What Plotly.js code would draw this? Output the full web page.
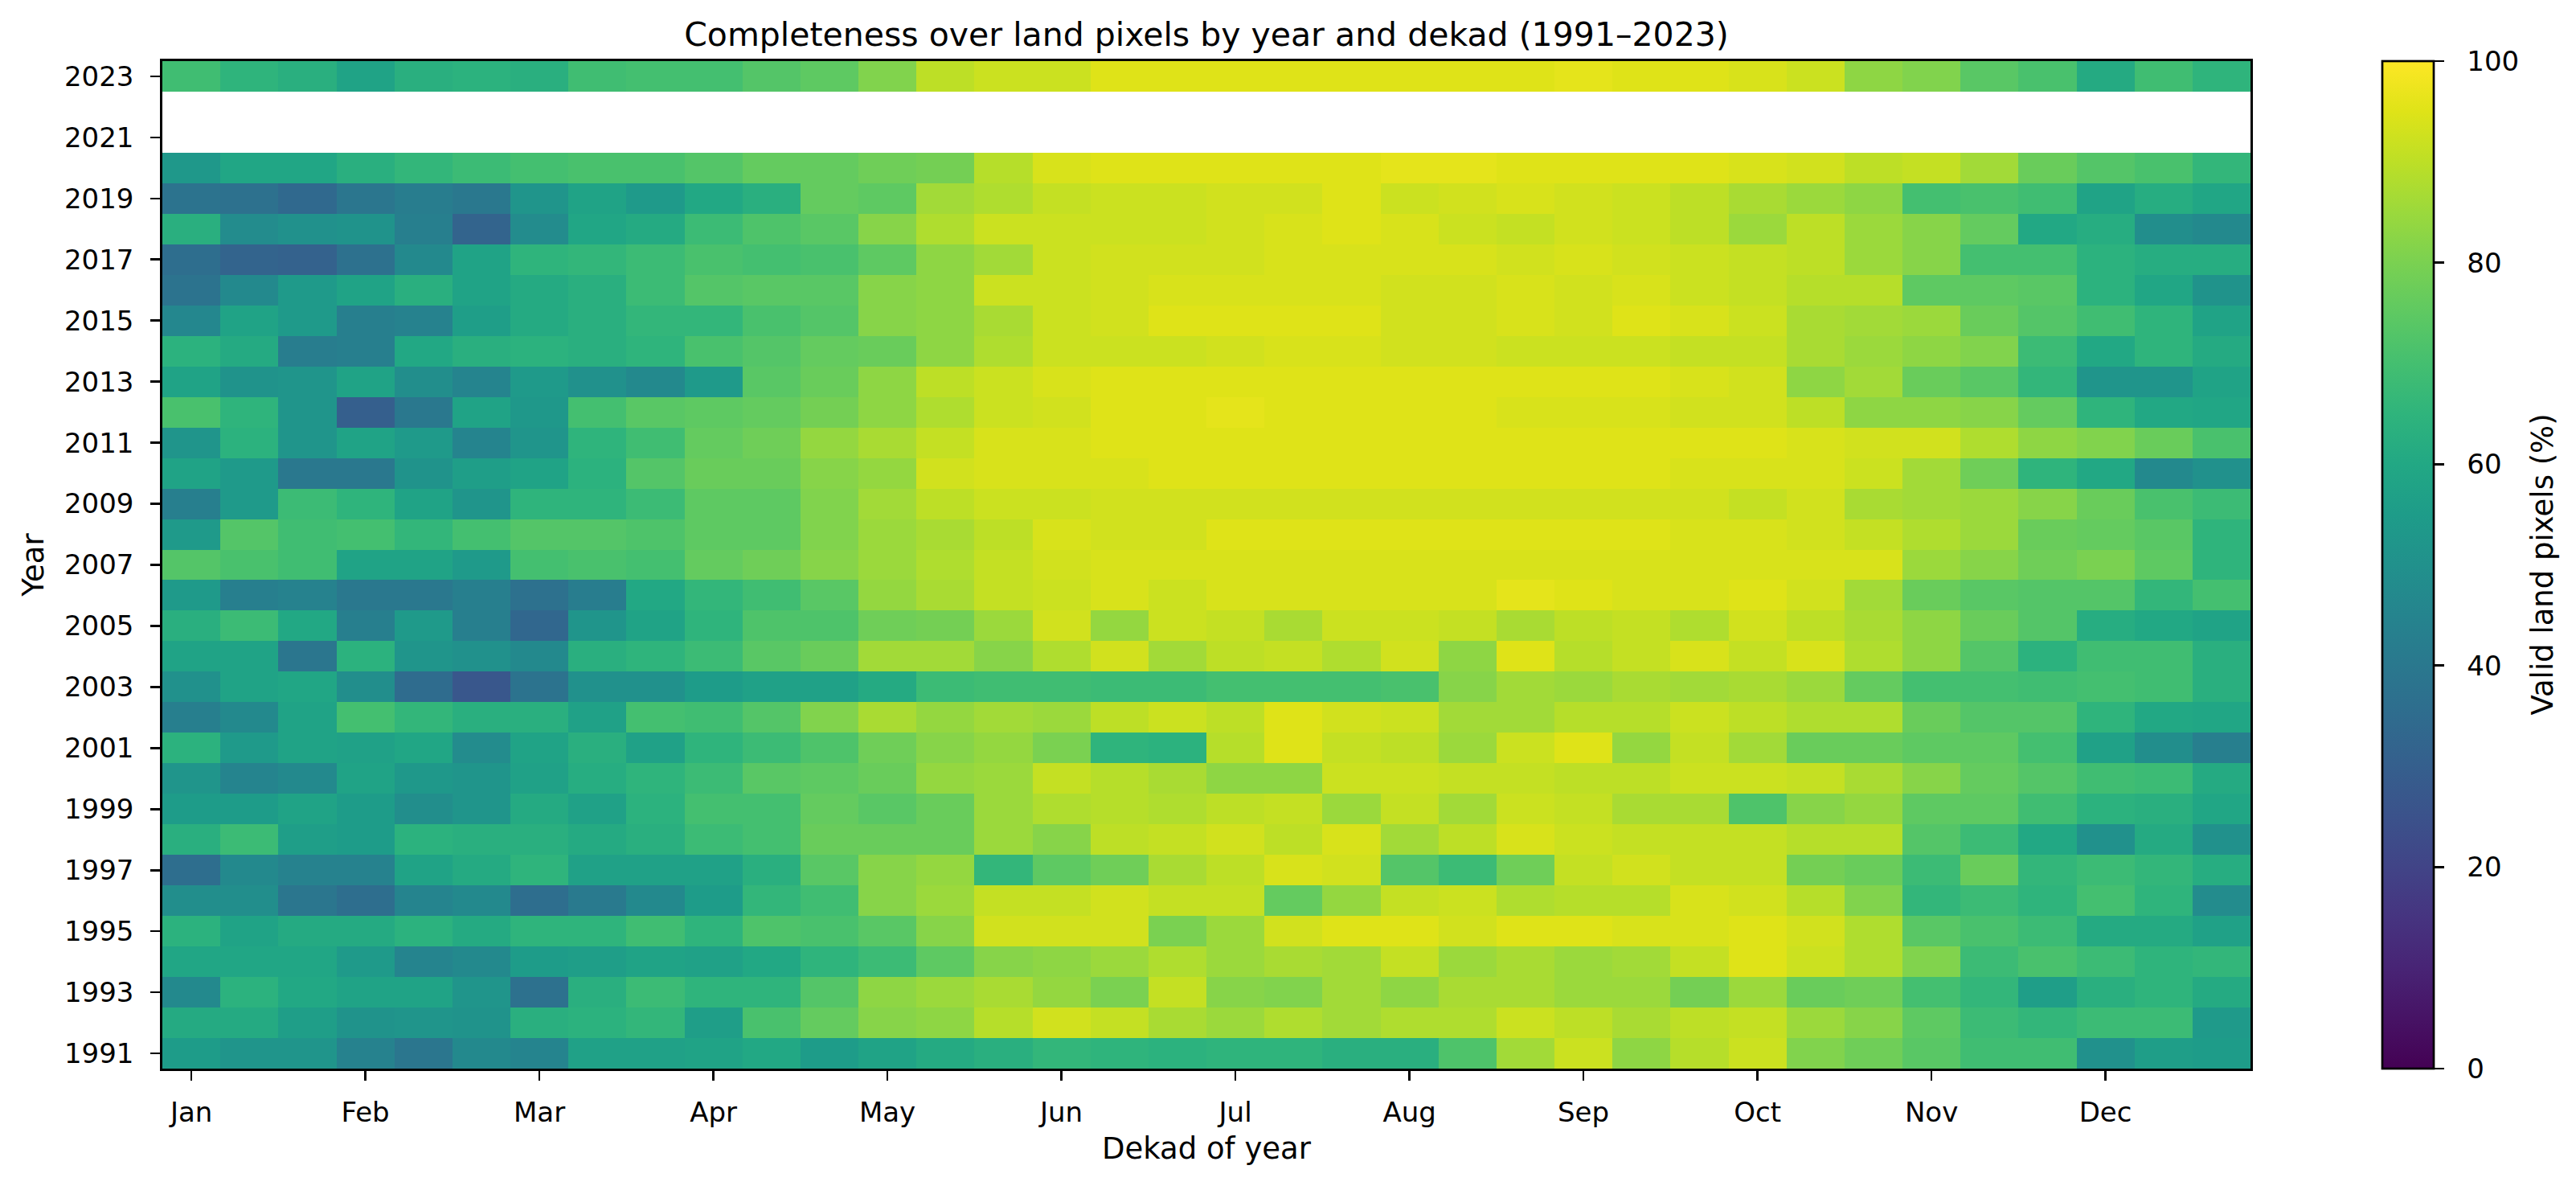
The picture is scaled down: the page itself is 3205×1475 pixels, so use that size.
<!DOCTYPE html>
<html>
<head>
<meta charset="utf-8">
<script src="https://cdn.plot.ly/plotly-3.0.1.min.js"></script>
<style>
  html, body { margin: 0; padding: 0; background: #ffffff; }
  #chart { width: 3205px; height: 1475px; }
</style>
</head>
<body>
<div id="chart"></div>
<script>
// Share of valid land pixels (%) per dekad (36 per year), one row per year.
// 2021 and 2022 have no data.
const monthLabels = ["Jan", "Feb", "Mar", "Apr", "May", "Jun",
                     "Jul", "Aug", "Sep", "Oct", "Nov", "Dec"];

const v1991 = [55,52,52,44,39,47,45,57,57,58,60,55, 58,61,63,66,65,64,65,65,63,63,72,86, 92,83,89,92,81,78,74,69,69,50,56,55];
const v1992 = [61,61,56,51,52,51,63,64,66,56,71,76, 82,83,89,93,91,87,85,88,86,88,88,92, 90,87,90,91,85,82,75,68,66,68,68,54];
const v1993 = [47,64,60,58,58,52,37,63,68,65,65,73, 83,85,87,84,80,91,82,81,86,83,87,87, 85,85,79,85,77,78,70,66,56,63,65,61];
const v1994 = [59,59,59,54,45,47,55,56,58,57,60,65, 68,75,82,83,85,88,85,87,86,91,85,87, 85,86,91,95,92,88,81,68,71,68,65,66];
const v1995 = [64,58,61,61,64,61,65,65,69,65,72,71, 74,82,93,93,93,80,85,93,95,95,93,95, 95,94,94,95,93,88,74,71,68,61,61,57];
const v1996 = [49,49,39,36,45,47,36,41,47,55,66,69, 82,85,91,91,93,91,91,76,84,91,92,88, 89,89,94,93,89,81,66,68,65,70,65,48];
const v1997 = [36,47,44,44,58,61,65,57,57,57,63,74, 82,84,66,75,78,87,90,94,93,73,68,78, 91,93,91,91,79,77,68,77,66,68,66,62];
const v1998 = [63,68,56,55,64,63,63,61,63,68,70,77, 77,77,85,82,90,91,93,90,94,86,90,94, 92,91,91,91,89,89,73,68,60,50,61,50];
const v1999 = [55,55,58,55,49,52,61,57,64,70,70,76, 74,77,85,88,89,88,90,91,85,91,86,92, 91,87,87,72,82,84,75,75,69,64,63,59];
const v2000 = [52,45,47,58,53,52,57,62,65,68,74,75, 77,84,85,91,89,87,83,83,92,92,91,91, 90,90,92,92,91,87,82,76,73,69,68,61];
const v2001 = [64,54,58,57,59,48,58,63,57,65,68,72, 78,82,84,80,65,64,89,95,91,90,85,92, 95,84,91,86,77,77,75,75,70,57,49,43];
const v2002 = [43,47,58,70,66,63,63,57,70,69,73,81, 87,84,86,85,90,92,90,95,93,92,86,86, 89,89,92,90,88,88,77,73,73,65,60,59];
const v2003 = [50,58,59,49,35,27,38,50,50,55,57,57, 61,68,69,69,68,68,70,70,70,71,82,86, 85,87,86,87,85,76,70,70,69,70,69,63];
const v2004 = [58,58,39,64,52,50,47,63,65,68,74,77, 86,86,82,88,93,86,90,91,88,93,83,95, 89,91,94,91,94,88,83,73,64,69,69,63];
const v2005 = [63,68,60,43,54,43,33,52,58,65,72,72, 78,79,85,93,84,92,91,87,92,92,91,87, 90,91,88,93,90,87,83,77,73,62,60,58];
const v2006 = [54,43,44,40,40,43,37,42,60,66,69,74, 84,87,91,92,94,92,94,94,94,94,94,96, 95,94,94,95,93,86,77,74,73,73,66,70];
const v2007 = [73,71,69,58,58,54,70,71,70,76,78,82, 85,88,91,93,94,94,94,94,94,94,94,94, 94,94,94,94,94,94,85,82,78,80,75,65];
const v2008 = [54,73,69,70,66,70,73,73,72,75,75,81, 85,87,90,94,93,93,95,95,95,95,95,95, 95,95,94,94,93,91,88,85,77,76,74,65];
const v2009 = [43,54,68,65,58,52,65,65,68,75,75,81, 86,90,92,92,93,93,93,93,93,93,93,93, 93,93,93,91,93,87,86,85,82,77,71,68];
const v2010 = [58,54,40,40,51,56,58,64,73,77,77,82, 84,93,94,94,94,95,95,95,95,95,95,95, 95,95,94,94,94,92,86,78,65,60,47,50];
const v2011 = [52,64,52,58,54,45,52,65,69,76,78,84, 87,91,94,94,95,95,95,95,95,95,95,95, 95,95,95,95,94,93,93,88,83,81,77,71];
const v2012 = [71,65,52,30,40,58,53,70,74,75,76,79, 83,88,92,93,95,95,96,95,95,95,95,94, 94,94,93,93,90,83,83,82,76,65,60,59];
const v2013 = [58,51,52,58,49,45,54,50,47,54,74,77, 83,90,92,94,95,95,95,95,95,95,95,95, 95,95,94,93,83,86,77,74,66,52,52,58];
const v2014 = [64,61,42,43,60,63,64,63,65,71,73,76, 77,83,88,92,92,92,93,94,94,93,93,92, 92,92,91,91,87,85,83,81,68,60,65,61];
const v2015 = [46,58,54,43,44,56,61,63,66,66,71,73, 82,83,87,92,93,95,95,95,95,93,93,94, 93,95,94,92,87,86,85,77,73,69,65,58];
const v2016 = [38,47,54,58,63,58,61,63,68,73,74,74, 82,83,92,92,93,94,94,94,94,93,93,94, 93,94,92,91,89,89,75,75,74,64,59,51];
const v2017 = [36,32,31,37,47,58,65,66,68,71,70,71, 75,83,86,92,93,93,93,94,94,94,94,93, 94,93,92,91,90,85,82,70,70,64,62,62];
const v2018 = [63,48,50,51,43,32,48,59,61,68,72,74, 82,88,92,92,92,92,93,94,95,94,92,91, 93,92,90,85,90,85,82,76,60,62,49,47];
const v2019 = [38,37,34,39,42,40,52,58,54,60,63,76, 75,86,88,91,92,92,93,93,95,92,93,94, 93,92,90,87,85,83,70,71,69,58,62,59];
const v2020 = [53,59,59,63,66,68,70,71,71,73,76,76, 78,79,89,94,95,95,95,95,95,96,96,95, 95,95,95,94,93,90,91,86,77,73,71,66];
const v2021 = null;
const v2022 = null;
const v2023 = [69,65,63,58,63,64,63,69,70,70,73,75, 81,90,92,92,95,95,95,95,95,95,95,95, 96,95,95,94,92,83,81,74,71,61,69,65];

const years = [];
for (let y = 1991; y <= 2023; y++) years.push(y);

const rowsByYear = [v1991, v1992, v1993, v1994, v1995, v1996, v1997, v1998, v1999, v2000,
                    v2001, v2002, v2003, v2004, v2005, v2006, v2007, v2008, v2009, v2010,
                    v2011, v2012, v2013, v2014, v2015, v2016, v2017, v2018, v2019, v2020,
                    v2021, v2022, v2023];

// dekad numbers 1..36; a month label sits on the first dekad of each month
const dekads = [];
for (let d = 1; d <= 36; d++) dekads.push(d);
const monthTickVals = monthLabels.map((_, i) => 1 + 3 * i);

// missing years become empty rows (left blank)
const z = rowsByYear.map(r => r === null ? dekads.map(() => null) : r);

const yearTicks = years.filter(y => (y - 1991) % 2 === 0);
const colorbarTicks = [0, 20, 40, 60, 80, 100];

const viridis = [
  [0.00, "#440154"], [0.05, "#471365"], [0.10, "#482475"], [0.15, "#463480"],
  [0.20, "#414487"], [0.25, "#3b528b"], [0.30, "#355f8d"], [0.35, "#2f6c8e"],
  [0.40, "#2a788e"], [0.45, "#25848e"], [0.50, "#21918c"], [0.55, "#1e9c89"],
  [0.60, "#22a884"], [0.65, "#2fb47c"], [0.70, "#44bf70"], [0.75, "#5ec962"],
  [0.80, "#7ad151"], [0.85, "#9bd93c"], [0.90, "#bddf26"], [0.95, "#dfe318"],
  [1.00, "#fde725"]
];

const FONT = "DejaVu Sans, Liberation Sans, sans-serif";
const TICK_SIZE = 34;
const LABEL_SIZE = 37;
const W = 3205, H = 1475;
const M = { l: 202, r: 405, t: 76, b: 146 };
const plotW = W - M.l - M.r;
const NBSP = "\u00a0";

const trace = {
  type: "heatmap",
  x: dekads,
  y: years,
  z: z,
  zmin: 0,
  zmax: 100,
  colorscale: viridis,
  hoverongaps: false,
  colorbar: {
    x: (2964 - M.l) / plotW,
    xanchor: "left",
    xpad: 0,
    ypad: 0,
    y: 0.5,
    yanchor: "middle",
    len: 1,
    lenmode: "fraction",
    thickness: 64,
    thicknessmode: "pixels",
    outlinewidth: 2.7,
    outlinecolor: "#000000",
    ticks: "outside",
    ticklen: 12,
    tickwidth: 2.7,
    tickcolor: "#000000",
    tickmode: "array",
    tickvals: colorbarTicks,
    // small lead-in so the labels sit clear of the tick marks
    ticktext: colorbarTicks.map(v => NBSP + NBSP + String(v)),
    tickfont: { family: FONT, size: TICK_SIZE, color: "#000000" }
  }
};

const axisStyle = {
  showgrid: false,
  zeroline: false,
  showline: true,
  mirror: true,
  linecolor: "#000000",
  linewidth: 2.7,
  ticks: "outside",
  ticklen: 12,
  tickwidth: 2.7,
  tickcolor: "#000000",
  tickfont: { family: FONT, size: TICK_SIZE, color: "#000000" },
  automargin: false
};

const layout = {
  width: W,
  height: H,
  margin: M,
  paper_bgcolor: "#ffffff",
  plot_bgcolor: "#ffffff",
  font: { family: FONT, color: "#000000" },
  title: {
    text: "Completeness over land pixels by year and dekad (1991\u20132023)",
    font: { family: FONT, size: 41, color: "#000000" },
    x: 0.5,
    xref: "paper",
    xanchor: "center",
    y: 1 - 43 / H,
    yref: "container",
    yanchor: "middle"
  },
  xaxis: Object.assign({}, axisStyle, {
    range: [0.5, 36.5],
    tickmode: "array",
    tickvals: monthTickVals,
    ticktext: monthLabels,
    ticklabelstandoff: 10,
    title: { text: "Dekad of year", standoff: 14,
             font: { family: FONT, size: LABEL_SIZE, color: "#000000" } }
  }),
  yaxis: Object.assign({}, axisStyle, {
    range: [1990.5, 2023.5],
    tickmode: "array",
    tickvals: yearTicks,
    ticktext: yearTicks.map(String),
    ticklabelstandoff: 14,
    title: { text: "Year", standoff: 14,
             font: { family: FONT, size: LABEL_SIZE, color: "#000000" } }
  }),
  annotations: [{
    // colour bar label, rotated, to the right of the tick labels
    text: "Valid land pixels (%)",
    xref: "paper",
    yref: "paper",
    x: (3163 - M.l) / plotW,
    y: 0.5,
    xanchor: "center",
    yanchor: "middle",
    textangle: -90,
    showarrow: false,
    font: { family: FONT, size: LABEL_SIZE, color: "#000000" }
  }]
};

Plotly.newPlot("chart", [trace], layout, { displayModeBar: false, staticPlot: true });
</script>
</body>
</html>
